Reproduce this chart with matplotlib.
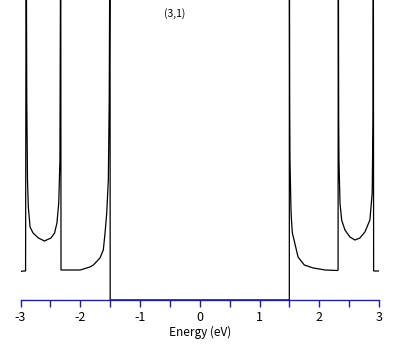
import matplotlib
matplotlib.use("Agg")
import matplotlib.pyplot as plt
from matplotlib.ticker import MultipleLocator

plt.rcParams['font.family'] = ['Noto Sans CJK JP', 'DejaVu Sans']

# Density of states (arbitrary units)
energy = [-3.00, -2.95, -2.915, -2.905, -2.895, -2.883, -2.869, -2.84, -2.79, -2.70,
          -2.60, -2.49, -2.43, -2.39, -2.36, -2.34, -2.327, -2.322, -2.30, -2.20,
          -2.00, -1.84, -1.78, -1.67, -1.614, -1.585, -1.557, -1.53, -1.515, -1.502,
          -1.499,
          1.499, 1.500, 1.505, 1.51, 1.527, 1.535, 1.55, 1.59, 1.645, 1.75,
          1.90, 2.10, 2.30, 2.315, 2.319, 2.325, 2.33, 2.347, 2.375, 2.43,
          2.513, 2.597, 2.68, 2.764, 2.848, 2.886, 2.90, 2.905, 2.91, 2.95, 3.00]
dos = [28.5, 29, 29, 400, 200, 120, 93, 73, 67, 62,
       59, 62, 67, 77, 97, 140, 400, 30, 30, 30,
       30, 33, 35, 42, 50, 67, 87, 120, 200, 400,
       0,
       0, 400, 200, 140, 90, 80, 67, 57, 43, 35,
       32, 30, 29.5, 30, 400, 180, 140, 97, 80, 70,
       63, 60, 62, 68, 80, 107, 180, 400, 29, 29, 29]
gap_energy = [-1.499, 1.499]
gap_dos = [0, 0]

xticks = [-3, -2, -1, 0, 1, 2, 3]
title_text = "(3,1)"
xlabel_text = "Energy (eV)"

fig = plt.figure(figsize=(4.09, 3.45), dpi=100)
ax = fig.add_axes([20.5 / 409, 45 / 345, (379 - 20.5) / 409, 300 / 345])

ax.plot(energy, dos, color='black', lw=0.9, solid_joinstyle='miter')
ax.plot(gap_energy, gap_dos, color='black', lw=0.9)

ax.set_xlim(-3, 3)
ax.set_ylim(0, 300)

for s in ['top', 'left', 'right']:
    ax.spines[s].set_visible(False)
blue = '#1c1cb0'
ax.spines['bottom'].set_color(blue)
ax.spines['bottom'].set_linewidth(1.0)
ax.spines['bottom'].set_zorder(5)

ax.set_yticks([])
ax.set_xticks(xticks)
ax.set_xticklabels([str(t) for t in xticks])
ax.xaxis.set_minor_locator(MultipleLocator(0.5))
ax.tick_params(axis='x', which='both', direction='out', length=5, width=1.0,
               color=blue, labelsize=9, pad=3)

ax.set_xlabel(xlabel_text, fontsize=8.5, labelpad=1)
ax.text(-0.42, 286, title_text, fontsize=7.5, ha='center', va='center')

fig.savefig('out.png', dpi=100)
